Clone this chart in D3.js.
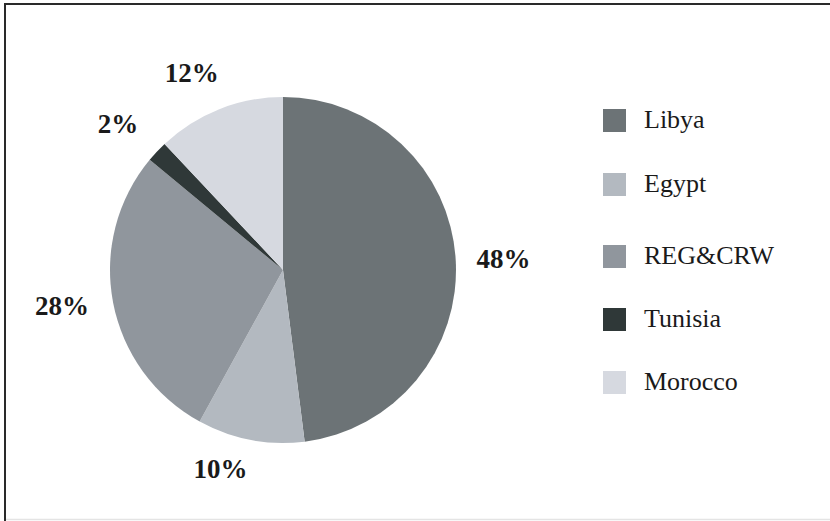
<!DOCTYPE html>
<html>
<head>
<meta charset="utf-8">
<script src="https://cdn.jsdelivr.net/npm/d3@7/dist/d3.min.js"></script>
<style>
  html, body { margin: 0; padding: 0; background: #fff; }
  svg { display: block; }
</style>
</head>
<body>
<svg id="chart" width="830" height="521"></svg>
<script>
// ---- data ----
const categories = ["Libya", "Egypt", "REG&CRW", "Tunisia", "Morocco"];
const shares = [48, 10, 28, 2, 12];
const labels = ["48%", "10%", "28%", "2%", "12%"];
const colors = ["#6c7376", "#b3b9c0", "#90969d", "#2f3838", "#d6d9e0"];

// ---- layout ----
const FONT = "'Liberation Serif', 'Times New Roman', Times, 'DejaVu Serif', serif";
const W = 830, H = 521;
const cx = 283, cy = 270, R = 173;
const svg = d3.select("#chart");

// frame
svg.append("line").attr("x1", 4).attr("x2", W).attr("y1", 4).attr("y2", 4)
  .attr("stroke", "#2a2a2a").attr("stroke-width", 2);
svg.append("line").attr("x1", 5).attr("x2", 5).attr("y1", 3).attr("y2", H)
  .attr("stroke", "#2a2a2a").attr("stroke-width", 2);
svg.append("line").attr("x1", 6).attr("x2", W).attr("y1", 519.5).attr("y2", 519.5)
  .attr("stroke", "#e4e4e4").attr("stroke-width", 1.5);

const data = categories.map((c, i) => ({ name: c, value: shares[i], label: labels[i], color: colors[i] }));

const pie = d3.pie().value(d => d.value).sort(null);
const arc = d3.arc().innerRadius(0).outerRadius(R);
const arcs = pie(data);

const g = svg.append("g").attr("transform", `translate(${cx},${cy})`);
g.selectAll("path").data(arcs).join("path")
  .attr("d", arc)
  .attr("fill", d => d.data.color);

// percentage labels (placed radially, with manual nudges as in the original)
const labelArc = d3.arc().innerRadius(R + 48).outerRadius(R + 48);
const nudges = { "Libya": [0, 3], "Egypt": [-21, -18], "REG&CRW": [-4, -5], "Tunisia": [-4, 5], "Morocco": [-10, 8] };
g.selectAll("text.pct").data(arcs).join("text")
  .attr("class", "pct")
  .attr("x", d => labelArc.centroid(d)[0] + nudges[d.data.name][0])
  .attr("y", d => labelArc.centroid(d)[1] + nudges[d.data.name][1])
  .attr("text-anchor", "middle")
  .attr("dominant-baseline", "central")
  .attr("font-family", FONT)
  .attr("font-weight", "bold")
  .attr("font-size", 27)
  .attr("fill", "#1a1a1a")
  .text(d => d.data.label);

// legend
const legendTops = [109, 173, 245, 308, 371];
const lg = svg.append("g");
const items = lg.selectAll("g").data(data).join("g")
  .attr("transform", (d, i) => `translate(603,${legendTops[i]})`);
items.append("rect").attr("width", 23).attr("height", 23).attr("fill", d => d.color);
items.append("text")
  .attr("x", 41).attr("y", 19)
  .attr("font-family", FONT)
  .attr("font-size", 26)
  .attr("fill", "#1a1a1a")
  .text(d => d.name);
</script>
</body>
</html>
